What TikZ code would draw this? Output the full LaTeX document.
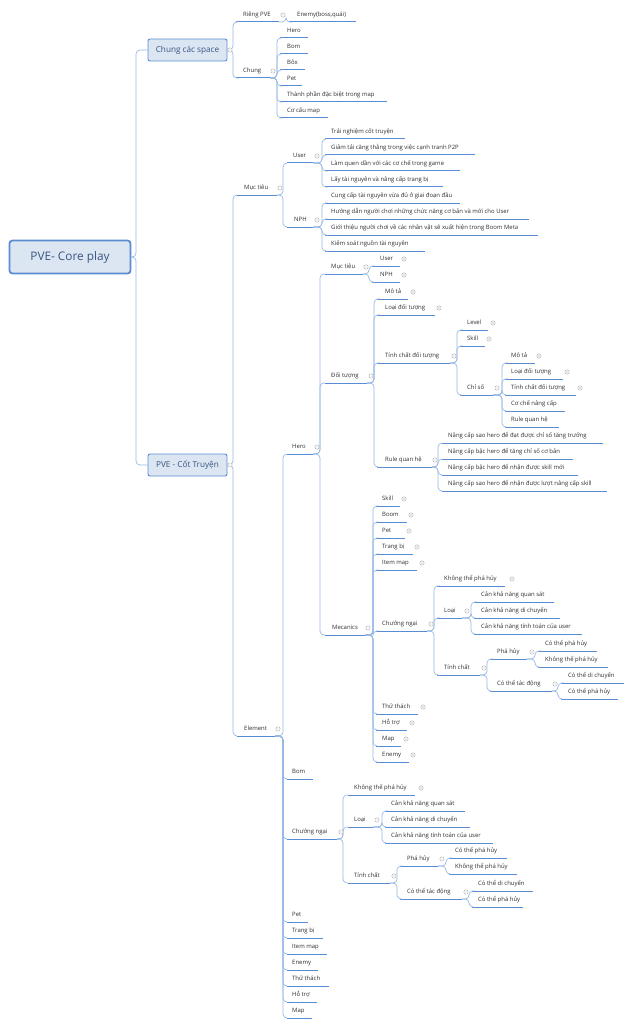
\documentclass[tikz,border=0pt]{standalone}
\usepackage{fontspec}
\setmainfont{Open Sans}
\definecolor{ulc}{RGB}{88,140,212}
\definecolor{cnc}{RGB}{150,184,230}
\definecolor{txc}{RGB}{45,45,45}
\definecolor{bxfill}{RGB}{220,230,242}
\definecolor{bxdraw}{RGB}{91,140,210}
\definecolor{bxtext}{RGB}{55,85,130}
\definecolor{mkc}{RGB}{175,175,175}
\newcommand{\mmtopic}[7]{%
  \node[txt] (#1) at (#2,#3) {#4};
  \coordinate (#1-l) at (#5,#3+7);
  \coordinate (#1-r) at (#6,#3+7);
  \coordinate (#1-s) at (#7,#3+7);
  \draw[uline] (#1-l) -- (#1-r);}
\newcommand{\mmconn}[2]{\draw[conn] (#1-r) -- (#1-s) |- (#2-l);}
\newcommand{\mmminus}[2]{\draw[mk] (#1,#2) circle (2.2) (#1-1.2,#2) -- (#1+1.2,#2);}
\newcommand{\mmplus}[2]{\draw[mk] (#1,#2) circle (2.2) (#1-1.2,#2) -- (#1+1.2,#2) (#1,#2-1.2) -- (#1,#2+1.2);}
\begin{document}
\begin{tikzpicture}[x=1pt,y=-1pt,
  txt/.style={anchor=west,inner sep=0pt,text=txc,font=\fontsize{5.95}{7}\selectfont,text height=4.3pt,text depth=1.2pt},
  uline/.style={draw=ulc,line width=1pt},
  conn/.style={draw=cnc,line width=0.7pt,rounded corners=4pt},
  mk/.style={draw=mkc,fill=white,line width=0.35pt},
  l1box/.style={draw=bxdraw,fill=bxfill,line width=0.9pt,rounded corners=2pt,minimum width=79pt,minimum height=22pt,inner sep=0pt,text=bxtext,font=\fontsize{8.2}{10}\selectfont},
  rootbox/.style={draw=bxdraw,fill=bxfill,line width=1.8pt,rounded corners=3pt,minimum width=121pt,minimum height=33pt,inner sep=0pt,text=bxtext,font=\fontsize{11.8}{14}\selectfont}]
\useasboundingbox (0,0) rectangle (633,1027);

% root
\node[rootbox] (root) at (70,257) {PVE- Core play};
\coordinate (root-s) at (136,257);
\node[l1box] (cs) at (187.5,50) {Chung các space};
\node[l1box] (ct) at (187.5,465) {PVE - Cốt Truyện};
\draw[conn] (root.east) -- (root-s) |- (cs.west);
\draw[conn] (root.east) -- (root-s) |- (ct.west);
\coordinate (cs-r) at (cs.east); \coordinate (cs-s) at (233,50);
\coordinate (ct-r) at (ct.east); \coordinate (ct-s) at (233,465);

% Chung cac space
\mmtopic{rpve}{243}{15}{Riêng PVE}{236}{279}{286}
\mmtopic{enemy0}{297}{15}{Enemy(boss,quái)}{289}{356}{0}
\mmtopic{chung}{243}{71}{Chung}{236}{270}{277}
\mmtopic{ch1}{287}{31}{Hero}{280}{308}{0}
\mmtopic{ch2}{287}{47}{Bom}{280}{308}{0}
\mmtopic{ch3}{287}{63}{Bôx}{280}{305}{0}
\mmtopic{ch4}{287}{79}{Pet}{280}{302}{0}
\mmtopic{ch5}{287}{95}{Thành phần đặc biệt trong map}{280}{387}{0}
\mmtopic{ch6}{287}{111}{Cơ cấu map}{280}{328}{0}
\mmconn{cs}{rpve} \mmconn{cs}{chung}
\mmconn{rpve}{enemy0}
\mmconn{chung}{ch1} \mmconn{chung}{ch2} \mmconn{chung}{ch3}
\mmconn{chung}{ch4} \mmconn{chung}{ch5} \mmconn{chung}{ch6}

% PVE - Cot truyen
\mmtopic{mt1}{244}{188}{Mục tiêu}{237}{277}{283}
\mmtopic{el}{244}{729}{Element}{237}{275}{283}
\mmconn{ct}{mt1} \mmconn{ct}{el}
\mmtopic{u1}{293}{156}{User}{287}{313}{322}
\mmtopic{n1}{294}{220}{NPH}{287}{313}{322}
\mmconn{mt1}{u1} \mmconn{mt1}{n1}
\mmtopic{u1a}{331}{132}{Trải nghiệm cốt truyện}{325}{405}{0}
\mmtopic{u1b}{331}{148}{Giảm tải căng thẳng trong việc cạnh tranh P2P}{325}{475}{0}
\mmtopic{u1c}{331}{164}{Làm quen dần với các cơ chế trong game}{325}{460}{0}
\mmtopic{u1d}{331}{180}{Lấy tài nguyên và nâng cấp trang bị}{325}{443}{0}
\mmtopic{n1a}{331}{196}{Cung cấp tài nguyên vừa đủ ở giai đoạn đầu}{325}{460}{0}
\mmtopic{n1b}{331}{212}{Hướng dẫn người chơi những chức năng cơ bản và mới cho User}{325}{529}{0}
\mmtopic{n1c}{331}{228}{Giới thiệu người chơi về các nhân vật sẽ xuất hiện trong Boom Meta}{325}{538}{0}
\mmtopic{n1d}{331}{244}{Kiểm soát nguồn tài nguyên}{325}{425}{0}
\mmconn{u1}{u1a} \mmconn{u1}{u1b} \mmconn{u1}{u1c} \mmconn{u1}{u1d}
\mmconn{n1}{n1a} \mmconn{n1}{n1b} \mmconn{n1}{n1c} \mmconn{n1}{n1d}

% Element children
\mmtopic{he}{292}{447}{Hero}{287}{313}{320}
\mmtopic{e2}{292}{772}{Bom}{287}{313}{0}
\mmtopic{cn2}{292}{832}{Chướng ngại}{287}{337}{343}
\mmtopic{e4}{292}{915}{Pet}{287}{308}{0}
\mmtopic{e5}{292}{931}{Trang bị}{287}{323}{0}
\mmtopic{e6}{292}{947}{Item map}{287}{327}{0}
\mmtopic{e7}{292}{963}{Enemy}{287}{318}{0}
\mmtopic{e8}{292}{979}{Thử thách}{287}{329}{0}
\mmtopic{e9}{292}{995}{Hỗ trợ}{287}{317}{0}
\mmtopic{e10}{292}{1011}{Map}{287}{312}{0}
\mmconn{el}{he} \mmconn{el}{e2} \mmconn{el}{cn2} \mmconn{el}{e4} \mmconn{el}{e5}
\mmconn{el}{e6} \mmconn{el}{e7} \mmconn{el}{e8} \mmconn{el}{e9} \mmconn{el}{e10}

% Hero
\mmtopic{mt2}{331}{267}{Mục tiêu}{325}{363}{369}
\mmtopic{dt}{331}{376}{Đối tượng}{325}{367}{374}
\mmtopic{mc}{332}{628}{Mecanics}{325}{365}{373}
\mmconn{he}{mt2} \mmconn{he}{dt} \mmconn{he}{mc}
\mmtopic{u2}{380}{259}{User}{372}{400}{0}
\mmtopic{n2}{380}{275}{NPH}{372}{400}{0}
\mmconn{mt2}{u2} \mmconn{mt2}{n2}
\mmtopic{mta}{385}{292}{Mô tả}{377}{408}{0}
\mmtopic{ldt}{385}{308}{Loại đối tượng}{377}{435}{0}
\mmtopic{tcd}{385}{356}{Tính chất đối tượng}{377}{450}{457}
\mmtopic{rqh}{385}{460}{Rule quan hệ}{377}{432}{438}
\mmconn{dt}{mta} \mmconn{dt}{ldt} \mmconn{dt}{tcd} \mmconn{dt}{rqh}
\mmtopic{lv}{467}{323}{Level}{460}{488}{0}
\mmtopic{sk}{467}{339}{Skill}{460}{485}{0}
\mmtopic{cso}{467}{388}{Chỉ số}{460}{493}{502}
\mmconn{tcd}{lv} \mmconn{tcd}{sk} \mmconn{tcd}{cso}
\mmtopic{cs1}{511}{356}{Mô tả}{505}{535}{0}
\mmtopic{cs2}{511}{372}{Loại đối tượng}{505}{563}{0}
\mmtopic{cs3}{511}{388}{Tính chất đối tượng}{505}{576}{0}
\mmtopic{cs4}{511}{404}{Cơ chế nâng cấp}{505}{565}{0}
\mmtopic{cs5}{511}{420}{Rule quan hệ}{505}{559}{0}
\mmconn{cso}{cs1} \mmconn{cso}{cs2} \mmconn{cso}{cs3} \mmconn{cso}{cs4} \mmconn{cso}{cs5}
\mmtopic{rq1}{448}{436}{Nâng cấp sao hero để đạt được chỉ số tăng trưởng}{442}{603}{0}
\mmtopic{rq2}{448}{452}{Nâng cấp bậc hero để tăng chỉ số cơ bản}{442}{573}{0}
\mmtopic{rq3}{448}{468}{Nâng cấp bậc hero để nhận được skill mới}{442}{578}{0}
\mmtopic{rq4}{448}{484}{Nâng cấp sao hero để nhận được lượt nâng cấp skill}{442}{607}{0}
\mmconn{rqh}{rq1} \mmconn{rqh}{rq2} \mmconn{rqh}{rq3} \mmconn{rqh}{rq4}

% Mecanics
\mmtopic{m1}{382}{499}{Skill}{376}{400}{0}
\mmtopic{m2}{382}{515}{Boom}{376}{407}{0}
\mmtopic{m3}{382}{531}{Pet}{376}{405}{0}
\mmtopic{m4}{382}{547}{Trang bị}{376}{413}{0}
\mmtopic{m5}{382}{563}{Item map}{376}{417}{0}
\mmtopic{cn1}{382}{624}{Chướng ngại}{376}{427}{434}
\mmtopic{m7}{382}{707}{Thử thách}{376}{418}{0}
\mmtopic{m8}{382}{723}{Hỗ trợ}{376}{407}{0}
\mmtopic{m9}{382}{739}{Map}{376}{401}{0}
\mmtopic{m10}{382}{755}{Enemy}{376}{409}{0}
\mmconn{mc}{m1} \mmconn{mc}{m2} \mmconn{mc}{m3} \mmconn{mc}{m4} \mmconn{mc}{m5}
\mmconn{mc}{cn1} \mmconn{mc}{m7} \mmconn{mc}{m8} \mmconn{mc}{m9} \mmconn{mc}{m10}

% Chuong ngai (Mecanics)
\mmtopic{kt1}{444}{579}{Không thể phá hủy}{437}{505}{0}
\mmtopic{lo1}{444}{611}{Loại}{437}{462}{471}
\mmtopic{tc1}{444}{668}{Tính chất}{437}{480}{487}
\mmconn{cn1}{kt1} \mmconn{cn1}{lo1} \mmconn{cn1}{tc1}
\mmtopic{lo1a}{481}{595}{Cản khả năng quan sát}{474}{554}{0}
\mmtopic{lo1b}{481}{611}{Cản khả năng di chuyển}{474}{560}{0}
\mmtopic{lo1c}{481}{627}{Cản khả năng tính toán của user}{474}{582}{0}
\mmconn{lo1}{lo1a} \mmconn{lo1}{lo1b} \mmconn{lo1}{lo1c}
\mmtopic{ph1}{497}{652}{Phá hủy}{490}{527}{535}
\mmtopic{td1}{497}{684}{Có thể tác động}{490}{552}{558}
\mmconn{tc1}{ph1} \mmconn{tc1}{td1}
\mmtopic{ph1a}{545}{644}{Có thể phá hủy}{538}{597}{0}
\mmtopic{ph1b}{545}{660}{Không thể phá hủy}{538}{608}{0}
\mmconn{ph1}{ph1a} \mmconn{ph1}{ph1b}
\mmtopic{td1a}{568}{676}{Có thể di chuyển}{561}{624}{0}
\mmtopic{td1b}{568}{692}{Có thể phá hủy}{561}{618}{0}
\mmconn{td1}{td1a} \mmconn{td1}{td1b}

% Chuong ngai (Element)
\mmtopic{kt2}{354}{788}{Không thể phá hủy}{348}{415}{0}
\mmtopic{lo2}{354}{820}{Loại}{348}{373}{382}
\mmtopic{tc2}{354}{876}{Tính chất}{348}{390}{397}
\mmconn{cn2}{kt2} \mmconn{cn2}{lo2} \mmconn{cn2}{tc2}
\mmtopic{lo2a}{391}{804}{Cản khả năng quan sát}{385}{465}{0}
\mmtopic{lo2b}{391}{820}{Cản khả năng di chuyển}{385}{470}{0}
\mmtopic{lo2c}{391}{836}{Cản khả năng tính toán của user}{385}{493}{0}
\mmconn{lo2}{lo2a} \mmconn{lo2}{lo2b} \mmconn{lo2}{lo2c}
\mmtopic{ph2}{407}{859}{Phá hủy}{400}{438}{446}
\mmtopic{td2}{407}{892}{Có thể tác động}{400}{462}{469}
\mmconn{tc2}{ph2} \mmconn{tc2}{td2}
\mmtopic{ph2a}{455}{851}{Có thể phá hủy}{449}{507}{0}
\mmtopic{ph2b}{455}{867}{Không thể phá hủy}{449}{517}{0}
\mmconn{ph2}{ph2a} \mmconn{ph2}{ph2b}
\mmtopic{td2a}{478}{884}{Có thể di chuyển}{472}{533}{0}
\mmtopic{td2b}{478}{900}{Có thể phá hủy}{472}{523}{0}
\mmconn{td2}{td2a} \mmconn{td2}{td2b}

% markers
\mmminus{230}{50} \mmminus{230}{465}
\mmminus{283}{15} \mmminus{273}{71}
\mmminus{280}{188} \mmminus{278}{729}
\mmminus{317}{156} \mmminus{317}{220}
\mmminus{317}{447} \mmminus{341}{832}
\mmminus{366}{267} \mmminus{371}{376} \mmminus{368}{628}
\mmplus{404}{259} \mmplus{404}{275}
\mmplus{413}{292} \mmplus{439}{308} \mmminus{454}{356} \mmminus{435}{460}
\mmplus{493}{323} \mmplus{489}{339} \mmminus{497}{388}
\mmplus{539}{356} \mmplus{567}{372} \mmplus{580}{388}
\mmplus{404}{499} \mmplus{411}{515} \mmplus{409}{531} \mmplus{417}{547} \mmplus{422}{563}
\mmminus{431}{624}
\mmplus{423}{707} \mmplus{412}{723} \mmplus{406}{739} \mmplus{413}{755}
\mmplus{512}{579} \mmminus{467}{611} \mmminus{484}{668}
\mmminus{532}{652} \mmminus{555}{684}
\mmplus{421}{788} \mmminus{377}{820} \mmminus{394}{876}
\mmminus{442}{859} \mmminus{466}{892}
\end{tikzpicture}
\end{document}
